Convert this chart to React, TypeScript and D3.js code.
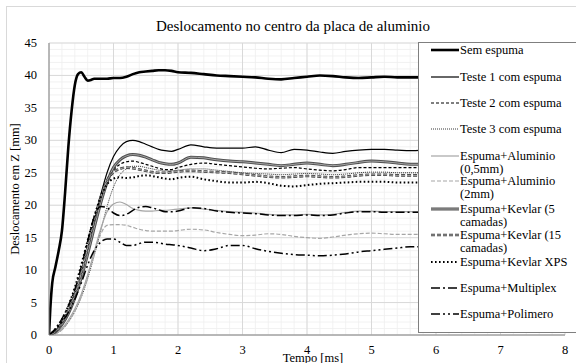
import { curveMonotoneX, line, range, scaleLinear } from 'd3'

// time axis shared by the foam series [ms]
const timeFoam = [
  0, 0.1, 0.2, 0.3, 0.4, 0.5, 0.6, 0.7, 0.8, 0.9, 1.0, 1.1, 1.2, 1.3, 1.4, 1.5, 1.6, 1.7, 1.8, 1.9,
  2.0, 2.2, 2.4, 2.6, 2.8, 3.0, 3.2, 3.4, 3.6, 3.8, 4.0, 4.2, 4.4, 4.6, 4.8, 5.0, 5.2, 5.4, 5.6, 5.8,
]

const timeNoFoam = [
  0, 0.02, 0.05, 0.1, 0.15, 0.2, 0.25, 0.3, 0.35, 0.4, 0.45, 0.5, 0.55, 0.6, 0.65, 0.7, 0.8, 0.9, 1.0,
  1.1, 1.2, 1.3, 1.4, 1.5, 1.6, 1.7, 1.8, 1.9, 2.0, 2.2, 2.4, 2.6, 2.8, 3.0, 3.2, 3.4, 3.6, 3.8, 4.0,
  4.2, 4.4, 4.6, 4.8, 5.0, 5.2, 5.4, 5.6, 5.8,
]

const semEspuma = [
  0, 4, 8, 10.5, 13, 16, 22, 29, 34.5, 38.5, 40.2, 40.5, 39.8, 39.2, 39.3, 39.5, 39.5, 39.5, 39.6,
  39.6, 39.8, 40.2, 40.5, 40.6, 40.7, 40.8, 40.8, 40.7, 40.5, 40.4, 40.2, 40.0, 39.9, 39.8, 39.7, 39.5,
  39.4, 39.6, 39.8, 40.0, 39.9, 39.7, 39.6, 39.7, 39.8, 39.7, 39.7, 39.7,
]

const teste1 = [
  0, 0.6, 1.8, 3.5, 6, 9.3, 13.2, 17.5, 21.5, 25, 27.5, 29, 29.8, 30.0, 29.8, 29.4, 29.0, 28.6, 28.4,
  28.3, 28.6, 29.3, 29.0, 28.8, 28.8, 28.8, 29.0, 28.5, 28.1, 28.6, 28.5, 28.2, 28.0, 28.3, 28.5, 28.6,
  28.6, 28.5, 28.4, 28.5,
]

const teste2 = [
  0, 0.7, 2, 3.8, 6.3, 9.5, 13.3, 17.2, 20.8, 23.6, 25.4, 26.3, 26.7, 26.8, 26.6, 26.3, 26.0, 25.7,
  25.5, 25.5, 25.8, 26.3, 26.5, 26.3, 26.1, 25.9, 25.7, 25.6, 25.7, 25.8, 25.6, 25.4, 25.3, 25.5, 25.8,
  25.8, 25.8, 25.8, 25.8, 25.8,
]

const teste3 = [
  0, 0.2, 0.8, 2, 3.6, 5.8, 8.7, 12.2, 16, 19.8, 22.8, 24.7, 25.6, 26.0, 26.0, 25.8, 25.6, 25.4, 25.3,
  25.3, 25.4, 25.6, 25.6, 25.4, 25.2, 25.0, 24.9, 24.8, 24.7, 24.8, 24.9, 24.8, 24.7, 24.8, 25.0, 25.1,
  25.1, 25.0, 25.0, 25.0,
]

const aluminio05 = [
  0, 0.3, 1, 2.3, 4, 6.3, 9.3, 12.8, 16.3, 19, 20.2, 20.5, 20.1, 19.5, 19.2, 19.1, 19.1, 19.2, 19.2,
  19.3, 19.4, 19.6, 19.4, 19.2, 19.0, 18.9, 18.8, 18.6, 18.5, 18.5, 18.6, 18.5, 18.6, 18.9, 19.1, 19.1,
  19.0, 19.0, 19.0, 19.0,
]

const aluminio2 = [
  0, 0.2, 0.8, 2, 3.7, 6, 9, 12.5, 15.5, 16.9, 17.0, 17.0, 16.9, 16.6, 16.3, 16.1, 16.0, 16.0, 16.0,
  16.0, 16.1, 16.3, 16.2, 15.8, 15.5, 15.3, 15.4, 15.6, 15.5, 15.2, 15.0, 14.9, 15.1, 15.4, 15.6, 15.7,
  15.6, 15.5, 15.5, 15.5,
]

const kevlar5 = [
  0, 0.5, 1.6, 3.3, 5.7, 8.8, 12.5, 16.5, 20.3, 23.5, 25.8, 27.0, 27.6, 27.8, 27.7, 27.4, 27.0, 26.6,
  26.4, 26.3, 26.5, 27.4, 27.3, 27.0, 26.8, 26.7, 26.5, 26.3, 26.1, 26.3, 26.5, 26.3, 26.1, 26.3, 26.6,
  26.8, 26.7, 26.5, 26.3, 26.3,
]

const kevlar15 = [
  0, 0.6, 1.9, 3.7, 6.2, 9.5, 13.5, 17.6, 21.2, 23.8, 25.1, 25.6, 25.8, 25.7, 25.5, 25.3, 25.1, 25.0,
  25.0, 25.1, 25.2, 25.3, 25.2, 25.1, 25.0, 24.8, 24.6, 24.4, 24.3, 24.4, 24.5, 24.4, 24.3, 24.4, 24.6,
  24.7, 24.7, 24.6, 24.6, 24.6,
]

const kevlarXps = [
  0, 0.9, 2.4, 4.5, 7.3, 10.8, 14.6, 18.2, 21.2, 23.2, 24.1, 24.3, 24.2, 24.3, 24.5, 24.6, 24.5, 24.3,
  24.1, 24.0, 24.2, 24.4, 24.0, 23.7, 23.5, 23.5, 23.6, 23.4, 23.0, 22.9, 23.1, 23.3, 23.4, 23.5, 23.6,
  23.6, 23.6, 23.5, 23.5, 23.5,
]

const multiplex = [
  0, 1, 2.5, 4.5, 7, 10.5, 14.5, 18.2, 19.8, 19.6, 18.8, 18.4, 18.6, 19.2, 19.7, 19.8, 19.6, 19.3, 19.0,
  19.0, 19.1, 19.6, 19.5, 19.1, 18.9, 18.8, 18.7, 18.5, 18.4, 18.4, 18.5, 18.4, 18.5, 18.8, 19.0, 19.0,
  18.9, 18.9, 18.9, 18.9,
]

const polimero = [
  0, 0.8, 2, 3.5, 5.5, 8, 10.8, 13, 14.3, 14.8, 14.8, 14.3, 13.8, 13.8, 14.1, 14.3, 14.3, 14.2, 14.0,
  13.9, 13.8, 13.4, 13.0, 13.3, 13.8, 13.8, 13.3, 12.9, 12.6, 12.4, 12.3, 12.2, 12.3, 12.5, 12.8, 13.0,
  13.2, 13.4, 13.6, 13.6,
]

const xTicks = [0, 1, 2, 3, 4, 5, 6, 7, 8]
const yTicks = [0, 5, 10, 15, 20, 25, 30, 35, 40, 45]

type Style = {
  color: string
  width: number
  dash?: string
  inner?: string
  innerWidth?: number
}

type Series = {
  name: string[]
  time: number[]
  values: number[]
  style: Style
}

const series: Series[] = [
  { name: ['Sem espuma'], time: timeNoFoam, values: semEspuma, style: { color: '#000', width: 2.6 } },
  { name: ['Teste 1 com espuma'], time: timeFoam, values: teste1, style: { color: '#000', width: 1.2 } },
  { name: ['Teste 2 com espuma'], time: timeFoam, values: teste2, style: { color: '#000', width: 1.2, dash: '3,2' } },
  { name: ['Teste 3 com espuma'], time: timeFoam, values: teste3, style: { color: '#222', width: 0.9, dash: '1,1' } },
  { name: ['Espuma+Aluminio', '(0,5mm)'], time: timeFoam, values: aluminio05, style: { color: '#a6a6a6', width: 1.2 } },
  { name: ['Espuma+Aluminio', '(2mm)'], time: timeFoam, values: aluminio2, style: { color: '#a6a6a6', width: 1.2, dash: '4,2' } },
  {
    name: ['Espuma+Kevlar (5', 'camadas)'],
    time: timeFoam,
    values: kevlar5,
    style: { color: '#505050', width: 3, inner: '#a6a6a6', innerWidth: 1 },
  },
  {
    name: ['Espuma+Kevlar (15', 'camadas)'],
    time: timeFoam,
    values: kevlar15,
    style: { color: '#404040', width: 2.6, dash: '4,2', inner: '#bfbfbf', innerWidth: 0.8 },
  },
  { name: ['Espuma+Kevlar XPS'], time: timeFoam, values: kevlarXps, style: { color: '#000', width: 2, dash: '1.6,2.4' } },
  { name: ['Espuma+Multiplex'], time: timeFoam, values: multiplex, style: { color: '#000', width: 1.5, dash: '9,3,2,3' } },
  { name: ['Espuma+Polimero'], time: timeFoam, values: polimero, style: { color: '#000', width: 1.5, dash: '9,3,2,3,2,3' } },
]

// first-line y of each legend entry
const legendRows = [50, 77, 103, 129, 156, 181, 209, 235, 262, 288, 314]

const width = 576
const height = 363
const plot = { left: 49, right: 565, top: 43, bottom: 335 }
const fontFamily = "'Liberation Serif', 'Times New Roman', serif"

function Path({ d, style }: { d: string; style: Style }) {
  return (
    <g fill="none" strokeLinejoin="round">
      <path d={d} stroke={style.color} strokeWidth={style.width} strokeDasharray={style.dash} />
      {style.inner ? (
        <path d={d} stroke={style.inner} strokeWidth={style.innerWidth} strokeDasharray={style.dash} />
      ) : null}
    </g>
  )
}

export default function App() {
  const x = scaleLinear().domain([0, 8]).range([plot.left, plot.right])
  const y = scaleLinear().domain([0, 45]).range([plot.bottom, plot.top])

  const makeLine = (s: Series) =>
    line<number>()
      .x((_, i) => x(s.time[i]))
      .y((v) => y(v))
      .curve(curveMonotoneX)(s.values) ?? ''

  const minorX = range(0, 8.001, 0.2)
  const minorY = range(0, 45.001, 1)

  const legendX = 418
  return (
    <svg
      width={width}
      height={height}
      viewBox={`0 0 ${width} ${height}`}
      style={{ position: 'absolute', left: 0, top: 0, background: '#fff', fontFamily }}
    >
      <rect x={6.5} y={6.5} width={width} height={height} fill="#fff" stroke="#d9d9d9" />
      <text x={293} y={31} textAnchor="middle" fontSize={15} fill="#000">
        Deslocamento no centro da placa de aluminio
      </text>

      <defs>
        <clipPath id="plot-clip">
          <rect x={plot.left} y={plot.top - 2} width={plot.right - plot.left} height={plot.bottom - plot.top + 2} />
        </clipPath>
      </defs>

      <g className="minor-grid" stroke="#efefef" strokeWidth={0.8}>
        {minorX.map((t) => (
          <line key={`mx${t}`} x1={x(t)} x2={x(t)} y1={plot.top} y2={plot.bottom} />
        ))}
        {minorY.map((v) => (
          <line key={`my${v}`} x1={plot.left} x2={plot.right} y1={y(v)} y2={y(v)} />
        ))}
      </g>
      <g className="major-grid" stroke="#d9d9d9" strokeWidth={1}>
        {xTicks.map((t) => (
          <line key={`gx${t}`} x1={x(t)} x2={x(t)} y1={plot.top} y2={plot.bottom} />
        ))}
        {yTicks.map((v) => (
          <line key={`gy${v}`} x1={plot.left} x2={plot.right} y1={y(v)} y2={y(v)} />
        ))}
      </g>

      <g clipPath="url(#plot-clip)">
        {series.map((s) => (
          <Path key={s.name.join(' ')} d={makeLine(s)} style={s.style} />
        ))}
      </g>

      <line x1={plot.left} x2={plot.left} y1={plot.top} y2={plot.bottom} stroke="#868686" />
      <line x1={plot.left} x2={plot.right} y1={plot.bottom} y2={plot.bottom} stroke="#868686" />

      <g fontSize={12.5} fill="#000">
        {yTicks.map((v) => (
          <text key={`yt${v}`} x={37} y={y(v) + 4} textAnchor="end">
            {v}
          </text>
        ))}
        {xTicks.map((t) => (
          <text key={`xt${t}`} x={x(t)} y={354} textAnchor="middle">
            {t}
          </text>
        ))}
      </g>
      <text x={313} y={362} textAnchor="middle" fontSize={12.5}>
        Tempo [ms]
      </text>
      <text
        transform={`translate(19, ${(plot.top + plot.bottom) / 2}) rotate(-90)`}
        textAnchor="middle"
        fontSize={12.5}
      >
        Deslocamento em Z [mm]
      </text>

      <g className="legend">
        <rect x={legendX + 0.5} y={42.5} width={200} height={290} fill="#fff" stroke="#7f7f7f" />
        {series.map((s, i) => {
          const ly = legendRows[i]
          return (
            <g key={`lg${i}`}>
              <Path d={`M${legendX + 13},${ly}L${legendX + 41},${ly}`} style={s.style} />
              {s.name.map((part, k) => (
                <text key={k} x={legendX + 42} y={ly + 4 + k * 12.5} fontSize={12.5}>
                  {part}
                </text>
              ))}
            </g>
          )
        })}
      </g>
    </svg>
  )
}
